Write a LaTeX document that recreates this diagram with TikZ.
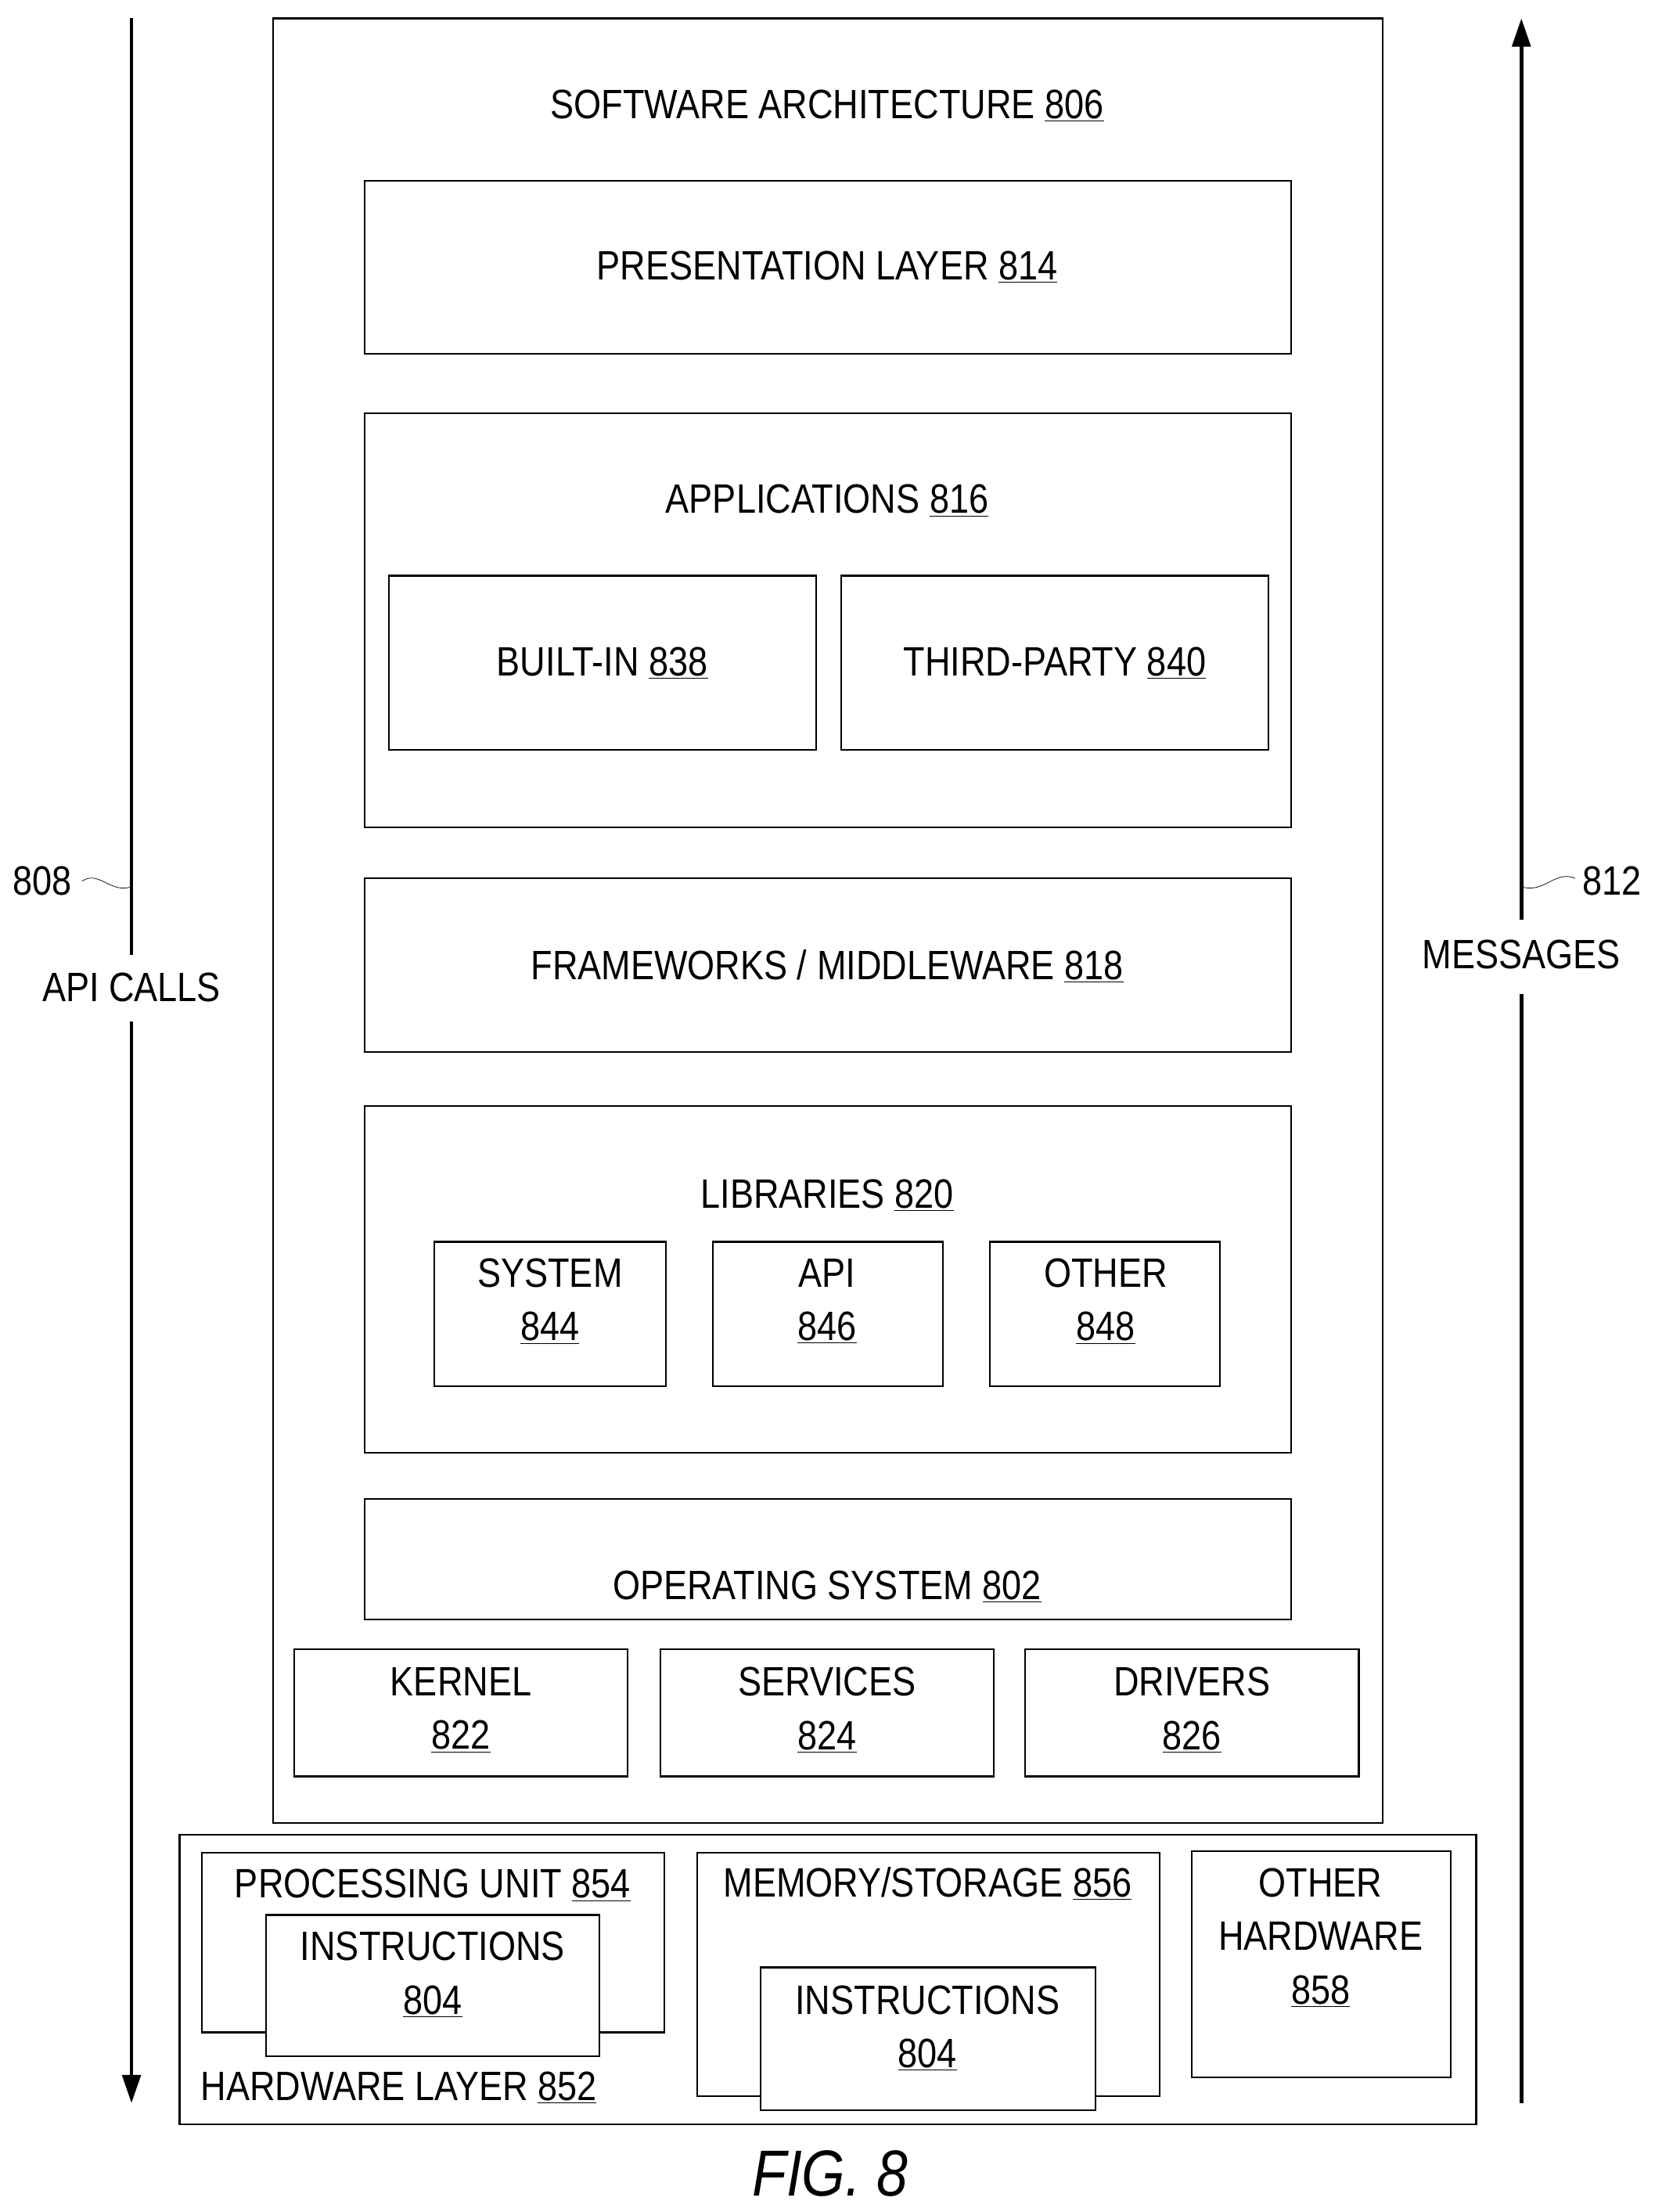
\documentclass[tikz,border=0pt]{standalone}
\usepackage{fontspec}
\setmainfont[FakeStretch=0.86]{Liberation Sans}
\usetikzlibrary{arrows.meta}
\begin{document}
\begin{tikzpicture}[x=1pt,y=-1pt,
  bx/.style={draw,line width=1.2pt},
  ar/.style={line width=2.5pt},
  tip/.style={-{Stealth[length=20pt,width=13pt,inset=0pt]}},
  t/.style={font=\fontsize{29}{38}\selectfont,align=center,inner sep=0pt}]
\useasboundingbox (0,0) rectangle (1170,1564);
\newcommand{\ul}[1]{\underline{#1}}
\draw[bx] (193,13) rectangle (978,1289);
\node[t] (sa) at (585,75) {SOFTWARE ARCHITECTURE \ul{806}};
\draw[bx] (258,128) rectangle (913,250);
\node[t] (pl) at (585,189) {PRESENTATION LAYER \ul{814}};
\draw[bx] (258,292) rectangle (913,585);
\node[t] (ap) at (585,354) {APPLICATIONS \ul{816}};
\draw[bx] (275,407) rectangle (577,530);
\node[t] (bi) at (426,469) {BUILT-IN \ul{838}};
\draw[bx] (595,407) rectangle (897,530);
\node[t] (tp) at (746,469) {THIRD-PARTY \ul{840}};
\draw[bx] (258,621) rectangle (913,744);
\node[t] (fw) at (585,683) {FRAMEWORKS / MIDDLEWARE \ul{818}};
\draw[bx] (258,782) rectangle (913,1027);
\node[t] (lib) at (585,845) {LIBRARIES \ul{820}};
\draw[bx] (307,878) rectangle (471,980);
\node[t] (sys) at (389,920) {SYSTEM\\\ul{844}};
\draw[bx] (504,878) rectangle (667,980);
\node[t] (api) at (585,920) {API\\\ul{846}};
\draw[bx] (700,878) rectangle (863,980);
\node[t] (oth) at (782,920) {OTHER\\\ul{848}};
\draw[bx] (258,1060) rectangle (913,1145);
\node[t] (os) at (585,1122) {OPERATING SYSTEM \ul{802}};
\draw[bx] (208,1166) rectangle (444,1256);
\node[t] (ke) at (326,1209) {KERNEL\\\ul{822}};
\draw[bx] (467,1166) rectangle (703,1256);
\node[t] (se) at (585,1209) {SERVICES\\\ul{824}};
\draw[bx] (725,1166) rectangle (961,1256);
\node[t] (dr) at (843,1209) {DRIVERS\\\ul{826}};
\draw[bx] (127,1297) rectangle (1044,1502);
\draw[bx] (143,1310) rectangle (470,1437);
\node[t] (pu) at (306,1333) {PROCESSING UNIT \ul{854}};
\draw[bx,fill=white] (188,1354) rectangle (424,1454);
\node[t] (i1) at (306,1396) {INSTRUCTIONS\\\ul{804}};
\draw[bx] (493,1310) rectangle (820,1482);
\node[t] (ms) at (656,1332) {MEMORY/STORAGE \ul{856}};
\draw[bx,fill=white] (538,1391) rectangle (775,1492);
\node[t] (i2) at (656,1434) {INSTRUCTIONS\\\ul{804}};
\draw[bx] (843,1309) rectangle (1026,1469);
\node[t] (oh) at (934,1370) {OTHER\\HARDWARE\\\ul{858}};
\node[t] (hl) at (282,1476) {HARDWARE LAYER \ul{852}};
% arrows
\coordinate (la) at (93,13); \coordinate (lb) at (93,1487);
\node[t] (ac) at (93,698) {API CALLS};
\draw[ar] (la) -- (93,675);
\draw[ar,tip] (93,722) -- (lb);
\coordinate (ra) at (1076,13); \coordinate (rb) at (1076,1487);
\node[t] (msg) at (1076,675) {MESSAGES};
\draw[ar] (rb) -- (1076,703);
\draw[ar,tip] (1076,650) -- (ra);
\node[t] (n808) at (30,623) {808};
\coordinate (s1) at (93,627);
\draw (58,623) .. controls (70,615) and (78,632) .. (s1);
\node[t] (n812) at (1140,623) {812};
\coordinate (s2) at (1076,627);
\draw (1114,621) .. controls (1100,615) and (1092,632) .. (s2);
\node[font=\fontsize{46}{50}\selectfont\itshape,inner sep=0pt] (fig) at (587,1537) {FIG. 8};
\end{tikzpicture}
\end{document}
